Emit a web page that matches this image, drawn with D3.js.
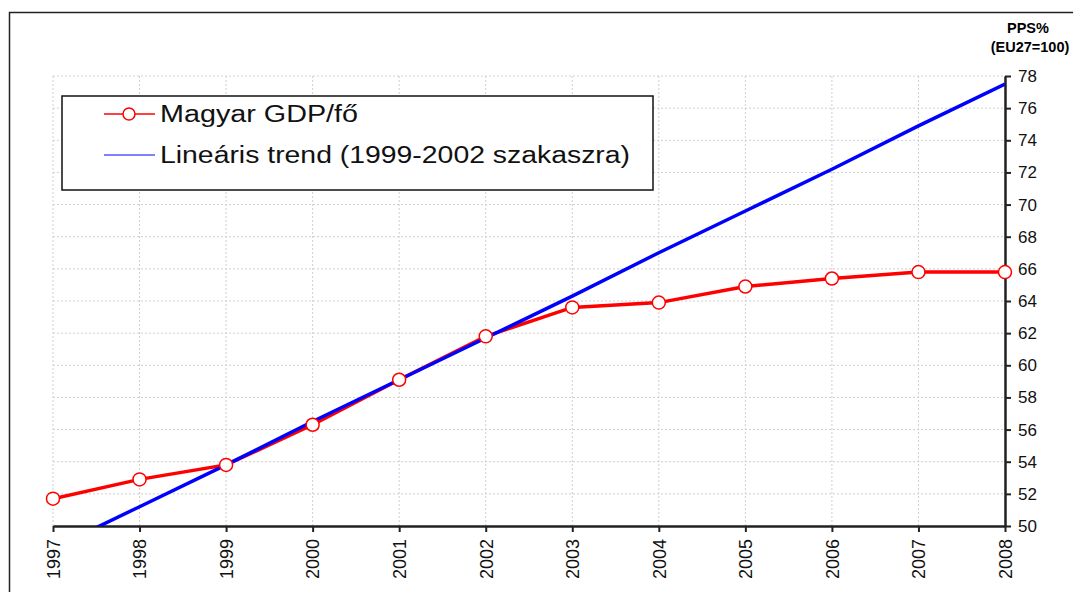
<html>
  <head>
    <meta charset="utf-8" />
    <title>Magyar GDP/fő</title>
    <script src="https://d3js.org/d3.v7.min.js"></script>
    <style>
      body {
        margin: 0;
        background: #fff;
      }
      text {
        font-family: "Liberation Sans", Arial, sans-serif;
      }
      .grid line {
        stroke: #cfcfcf;
        stroke-dasharray: 2, 2;
      }
    </style>
  </head>
  <body>
    <svg id="chart"></svg>
    <script>
      var years = [1997, 1998, 1999, 2000, 2001, 2002, 2003, 2004, 2005, 2006, 2007, 2008];
      var gdp = [51.7, 52.9, 53.8, 56.3, 59.1, 61.8, 63.6, 63.9, 64.9, 65.4, 65.8, 65.8];
      var trend = [48.6, 51.2, 53.8, 56.5, 59.1, 61.7, 64.3, 67.0, 69.6, 72.2, 74.9, 77.5];
      var yTicks = [50, 52, 54, 56, 58, 60, 62, 64, 66, 68, 70, 72, 74, 76, 78];
      var seriesNames = ["Magyar GDP/fő", "Lineáris trend (1999-2002 szakaszra)"];

      var width = 1073, height = 592;
      var margin = { top: 76, right: 68, bottom: 66, left: 53 };

      var svg = d3.select("#chart")
        .attr("width", width)
        .attr("height", height);

      // outer frame (only top and left edges visible)
      svg.append("path")
        .attr("d", "M9.5," + height + "V12.5H" + width)
        .attr("fill", "none")
        .attr("stroke", "#222")
        .attr("stroke-width", 1.5);

      var x = d3.scaleLinear()
        .domain([1997, 2008])
        .range([margin.left, width - margin.right]);

      var y = d3.scaleLinear()
        .domain([50, 78])
        .range([height - margin.bottom, margin.top]);

      svg.append("defs").append("clipPath")
        .attr("id", "plotClip")
        .append("rect")
        .attr("x", x(1997))
        .attr("y", y(78))
        .attr("width", x(2008) - x(1997))
        .attr("height", y(50) - y(78));

      // grid
      var grid = svg.append("g").attr("class", "grid");
      grid.selectAll(".v").data(years).enter().append("line")
        .attr("x1", function(d) { return x(d); })
        .attr("x2", function(d) { return x(d); })
        .attr("y1", y(78))
        .attr("y2", y(50));
      grid.selectAll(".h").data(yTicks).enter().append("line")
        .attr("x1", x(1997))
        .attr("x2", x(2008))
        .attr("y1", function(d) { return y(d); })
        .attr("y2", function(d) { return y(d); });

      // axes
      var xAxis = d3.axisBottom(x)
        .tickValues(years)
        .tickFormat(d3.format("d"))
        .tickSize(6)
        .tickSizeOuter(0);

      var gx = svg.append("g")
        .attr("transform", "translate(0," + y(50) + ")")
        .call(xAxis);
      gx.select(".domain").attr("stroke", "#222").attr("stroke-width", 2.5);
      gx.selectAll(".tick line").attr("stroke", "#222").attr("stroke-width", 2);
      gx.selectAll(".tick text")
        .attr("font-size", 18)
        .attr("fill", "#111")
        .attr("text-anchor", "end")
        .attr("dy", "0.35em")
        .attr("transform", "translate(0,13) rotate(-90)")
        .attr("x", 0)
        .attr("y", 0);

      var yAxis = d3.axisRight(y)
        .tickValues(yTicks)
        .tickSize(6)
        .tickSizeOuter(0);

      var gy = svg.append("g")
        .attr("transform", "translate(" + x(2008) + ",0)")
        .call(yAxis);
      gy.select(".domain").attr("stroke", "#222").attr("stroke-width", 2.5);
      gy.selectAll(".tick line").attr("stroke", "#222").attr("stroke-width", 2);
      gy.selectAll(".tick text")
        .attr("font-size", 17)
        .attr("fill", "#111")
        .attr("x", 13);

      // axis title
      var title = svg.append("g")
        .attr("font-weight", "bold")
        .attr("font-size", 14.5)
        .attr("text-anchor", "middle");
      title.append("text").attr("x", 1028).attr("y", 33).text("PPS%");
      title.append("text").attr("x", 1030).attr("y", 52).text("(EU27=100)");

      // lines
      var line = d3.line()
        .x(function(d, i) { return x(years[i]); })
        .y(function(d) { return y(d); });

      var plot = svg.append("g").attr("clip-path", "url(#plotClip)");

      plot.append("path")
        .datum(gdp)
        .attr("d", line)
        .attr("fill", "none")
        .attr("stroke", "#ff0000")
        .attr("stroke-width", 3.5);

      plot.append("path")
        .datum(trend)
        .attr("d", line)
        .attr("fill", "none")
        .attr("stroke", "#0000ff")
        .attr("stroke-width", 3.5);

      svg.append("g").selectAll("circle")
        .data(gdp)
        .enter().append("circle")
        .attr("cx", function(d, i) { return x(years[i]); })
        .attr("cy", function(d) { return y(d); })
        .attr("r", 6.5)
        .attr("fill", "#fff")
        .attr("stroke", "#ff0000")
        .attr("stroke-width", 1.5);

      // legend
      var legend = svg.append("g").attr("transform", "translate(62,96)");
      legend.append("rect")
        .attr("width", 591)
        .attr("height", 94)
        .attr("fill", "#fff")
        .attr("stroke", "#111")
        .attr("stroke-width", 1.5);

      legend.append("line")
        .attr("x1", 42).attr("x2", 93)
        .attr("y1", 18).attr("y2", 18)
        .attr("stroke", "#ff0000").attr("stroke-width", 1.5);
      legend.append("circle")
        .attr("cx", 67).attr("cy", 18).attr("r", 6)
        .attr("fill", "#fff").attr("stroke", "#ff0000").attr("stroke-width", 1.5);
      legend.append("line")
        .attr("x1", 42).attr("x2", 93)
        .attr("y1", 59).attr("y2", 59)
        .attr("stroke", "#0000ff").attr("stroke-width", 1);

      legend.selectAll(".label")
        .data(seriesNames)
        .enter().append("text")
        .attr("class", "label")
        .attr("x", 98)
        .attr("y", function(d, i) { return 18 + i * 41; })
        .attr("dy", "0.35em")
        .attr("font-size", 23)
        .attr("fill", "#111")
        .attr("textLength", function(d, i) { return i === 0 ? 198 : 470; })
        .attr("lengthAdjust", "spacingAndGlyphs")
        .text(function(d) { return d; });
    </script>
  </body>
</html>
